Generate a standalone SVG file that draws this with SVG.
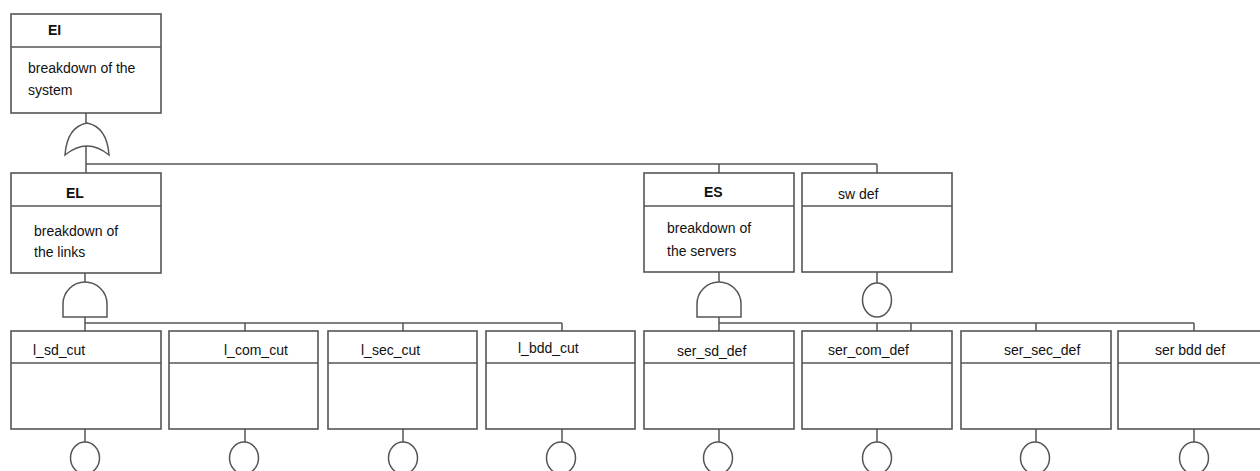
<svg xmlns="http://www.w3.org/2000/svg" width="1260" height="471" viewBox="0 0 1260 471">
<style>
.box{fill:#fff;stroke:#555;stroke-width:1.6}
.div{stroke:#555;stroke-width:1.6}
.ln{stroke:#555;stroke-width:1.5;fill:none}
.gate{fill:#fff;stroke:#555;stroke-width:1.5}
text{font-family:"Liberation Sans",Arial,sans-serif;font-size:14px;fill:#111}
.h{font-weight:bold}
</style>
<rect width="1260" height="471" fill="#fff"/>
<g id="connectors">
<path class="ln" d="M86,113V123 M86,146V173 M86,164H877 M719,164V173 M877,164V173"/>
<path class="ln" d="M85,273V282 M85,317V331 M85,323H562 M245,323V331 M403,323V331 M562,323V331"/>
<path class="ln" d="M719,272V282 M719,317V331 M719,323H1194 M877,323V331 M911,323V331 M1036,323V331 M1194,323V331"/>
<path class="ln" d="M877,272V283"/>
<path class="ln" d="M85,429V442 M245,429V442 M403,429V442 M562,429V442 M719,429V442 M877,429V442 M1036,429V442 M1194,429V442"/>
</g>
<g id="EI">
<rect class="box" x="11" y="14" width="150" height="99"/>
<line class="div" x1="11" y1="47" x2="161" y2="47"/>
<text class="h" x="48" y="35">EI</text>
<text x="28" y="73">breakdown of the</text>
<text x="28" y="95">system</text>
<path class="gate" d="M65,155 Q67,127 87,123 Q107,127 109,155 Q87,137 65,155 Z"/>
</g>
<g id="EL">
<rect class="box" x="11" y="173" width="150" height="100"/>
<line class="div" x1="11" y1="206" x2="161" y2="206"/>
<text class="h" x="66" y="198">EL</text>
<text x="34" y="236">breakdown of</text>
<text x="34" y="257">the links</text>
<path class="gate" d="M63,317V304A22,22 0 0 1 107,304V317Z"/>
</g>
<g id="ES">
<rect class="box" x="644" y="173" width="150" height="99"/>
<line class="div" x1="644" y1="206" x2="794" y2="206"/>
<text class="h" x="704" y="197">ES</text>
<text x="667" y="233">breakdown of</text>
<text x="667" y="256">the servers</text>
<path class="gate" d="M697,317V304A22,22 0 0 1 741,304V317Z"/>
</g>
<g id="sw_def">
<rect class="box" x="802" y="173" width="150" height="99"/>
<line class="div" x1="802" y1="206" x2="952" y2="206"/>
<text x="838" y="199">sw  def</text>
<ellipse class="gate" cx="877" cy="300" rx="14.5" ry="17"/>
</g>
<g id="l_sd_cut">
<rect class="box" x="11" y="331" width="150" height="98"/>
<line class="div" x1="11" y1="363" x2="161" y2="363"/>
<text x="33" y="355">l_sd_cut</text>
<ellipse class="gate" cx="85" cy="458" rx="14.5" ry="16"/>
</g>
<g id="l_com_cut">
<rect class="box" x="169" y="331" width="149" height="98"/>
<line class="div" x1="169" y1="363" x2="318" y2="363"/>
<text x="224" y="355">l_com_cut</text>
<ellipse class="gate" cx="244" cy="458" rx="14.5" ry="16"/>
</g>
<g id="l_sec_cut">
<rect class="box" x="328" y="331" width="149" height="98"/>
<line class="div" x1="328" y1="363" x2="477" y2="363"/>
<text x="361" y="355">l_sec_cut</text>
<ellipse class="gate" cx="403" cy="458" rx="14.5" ry="16"/>
</g>
<g id="l_bdd_cut">
<rect class="box" x="486" y="331" width="149" height="98"/>
<line class="div" x1="486" y1="363" x2="635" y2="363"/>
<text x="518" y="353">l_bdd_cut</text>
<ellipse class="gate" cx="561" cy="458" rx="14.5" ry="16"/>
</g>
<g id="ser_sd_def">
<rect class="box" x="644" y="331" width="150" height="98"/>
<line class="div" x1="644" y1="363" x2="794" y2="363"/>
<text x="677" y="356">ser_sd_def</text>
<ellipse class="gate" cx="718" cy="458" rx="14.5" ry="16"/>
</g>
<g id="ser_com_def">
<rect class="box" x="802" y="331" width="150" height="98"/>
<line class="div" x1="802" y1="363" x2="952" y2="363"/>
<text x="828" y="355">ser_com_def</text>
<ellipse class="gate" cx="877" cy="458" rx="14.5" ry="16"/>
</g>
<g id="ser_sec_def">
<rect class="box" x="961" y="331" width="150" height="98"/>
<line class="div" x1="961" y1="363" x2="1111" y2="363"/>
<text x="1004" y="355">ser_sec_def</text>
<ellipse class="gate" cx="1035" cy="458" rx="14.5" ry="16"/>
</g>
<g id="ser_bdd_def">
<rect class="box" x="1118" y="331" width="150" height="98"/>
<line class="div" x1="1118" y1="363" x2="1268" y2="363"/>
<text x="1155" y="355">ser bdd def</text>
<ellipse class="gate" cx="1194" cy="458" rx="14.5" ry="16"/>
</g>
</svg>
